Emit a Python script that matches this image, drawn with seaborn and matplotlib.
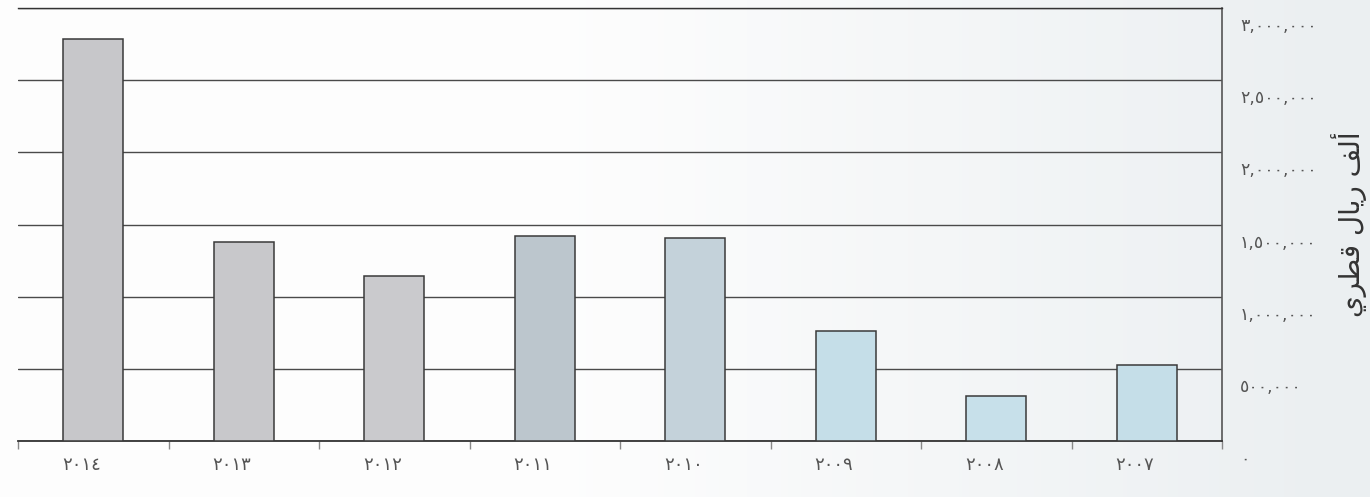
import numpy as np
import pandas as pd
import matplotlib
matplotlib.use("Agg")
import matplotlib.pyplot as plt
import matplotlib.transforms as mtransforms
import seaborn as sns

# ---- data ----
years = ["٢٠١٤", "٢٠١٣", "٢٠١٢", "٢٠١١", "٢٠١٠", "٢٠٠٩", "٢٠٠٨", "٢٠٠٧"]
values = [2785000, 1380000, 1145000, 1420000, 1405000, 762000, 312000, 527000]
y_ticks = [0, 500000, 1000000, 1500000, 2000000, 2500000, 3000000]
y_tick_labels = ["٠", "٥٠٠,٠٠٠", "١,٠٠٠,٠٠٠", "١,٥٠٠,٠٠٠", "٢,٠٠٠,٠٠٠", "٢,٥٠٠,٠٠٠", "٣,٠٠٠,٠٠٠"]
bar_colors = ["#c6c6ca", "#c7c8cb", "#c9cacd", "#b9c6d0", "#c0d3de", "#bfe1ee", "#c1e3f0", "#bfe1ee"]
# "ألف ريال قطري" written with Arabic presentation forms in display order
y_label = "\uFEF1\uFEAE\uFEC4\uFED7 \uFEDD\uFE8E\uFEF3\uFEAD \uFED2\uFEDF\uFE83"

df = pd.DataFrame({"year": years, "value": values})

sns.set_theme(style="white")
plt.rcParams["font.family"] = ["DejaVu Sans"]

fig = plt.figure(figsize=(13.7, 4.97), dpi=100)

# soft background wash (white on the left, pale grey-blue on the right)
bg = fig.add_axes([0, 0, 1, 1], zorder=-10)
gx = np.linspace(0, 1, 400)
grad = np.clip((gx - 0.4) / 0.55, 0, 1)
base_l = np.array([0.995, 0.995, 0.995])
base_r = np.array([0.925, 0.94, 0.948])
img = base_l[None, None, :] * (1 - grad[None, :, None]) + base_r[None, None, :] * grad[None, :, None]
img = np.repeat(img, 10, axis=0)
bg.imshow(img, aspect="auto", extent=[0, 1, 0, 1])
bg.set_axis_off()

ax = fig.add_axes([18 / 1370, 56 / 497, (1222 - 18) / 1370, (441 - 8) / 497])
ax.patch.set_alpha(0)

sns.barplot(data=df, x="year", y="value", hue="year", palette=bar_colors,
            order=years, hue_order=years, legend=False, width=0.4,
            edgecolor="#3a3a3a", linewidth=1.1, ax=ax, zorder=3)

ax.set_xlim(-0.5, len(years) - 0.5)
ax.set_ylim(0, 3000000)
ax.set_xlabel("")

# gridlines
ax.set_yticks(y_ticks)
ax.set_yticklabels(y_tick_labels)
ax.yaxis.grid(True, color="#4a4a4a", linewidth=1.0, zorder=0)
ax.set_axisbelow(True)

# y axis on the right, labels slightly below gridlines
ax.yaxis.tick_right()
ax.tick_params(axis="y", length=0, pad=13, labelsize=12.5, labelcolor="#555555")
offset = mtransforms.ScaledTranslation(0, -16 / 100, fig.dpi_scale_trans)
for lab in ax.get_yticklabels():
    lab.set_transform(lab.get_transform() + offset)

# x ticks: labels near bar centres, tick marks at category boundaries
ax.set_xticks(range(len(years)))
ax.set_xticklabels(years)
ax.set_xticks(np.arange(-0.5, len(years), 1), minor=True)
ax.tick_params(axis="x", which="major", length=0, pad=11, labelsize=13, labelcolor="#555555")
ax.tick_params(axis="x", which="minor", length=6, width=1, color="#888888", direction="out", bottom=True)
xoff = mtransforms.ScaledTranslation(-12 / 100, 0, fig.dpi_scale_trans)
for lab in ax.get_xticklabels():
    lab.set_transform(lab.get_transform() + xoff)

ax.spines["left"].set_visible(False)
ax.spines["bottom"].set_color("#333333")
ax.spines["bottom"].set_linewidth(1.3)
ax.spines["right"].set_color("#555555")
ax.spines["right"].set_linewidth(1.2)
ax.spines["top"].set_color("#333333")
ax.spines["top"].set_linewidth(1.0)

ax.yaxis.set_label_position("right")
ax.set_ylabel(y_label, fontsize=20, color="#333333", rotation=90)
ax.yaxis.set_label_coords((1349 - 18) / (1222 - 18), 0.5)
ax.yaxis.label.set_va("center")
ax.yaxis.label.set_ha("center")

fig.savefig("out.png", dpi=100)
